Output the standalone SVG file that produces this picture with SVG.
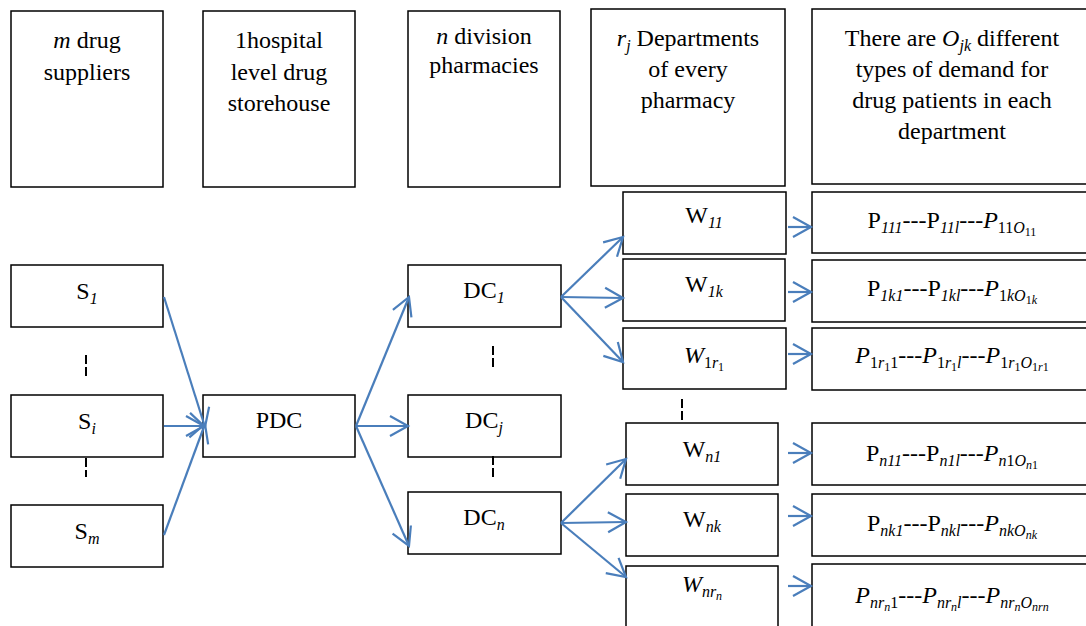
<svg xmlns="http://www.w3.org/2000/svg" width="1086" height="626" viewBox="0 0 1086 626">
<style>
rect{fill:#fff;stroke:#000;stroke-width:1.5}
text{font-family:'Liberation Serif',Tinos,'Times New Roman',Times,'Noto Serif','DejaVu Serif',FreeSerif,serif;font-size:24px;fill:#000;text-anchor:middle}
.i{font-style:italic}
.s{font-size:16px}
.ss{font-size:12px}
.c line{stroke:#4a7ebb;stroke-width:2.2;marker-end:url(#ah)}
.d{stroke:#000;stroke-width:2;stroke-dasharray:9 3}
</style>
<defs>
<marker id="ah" markerUnits="userSpaceOnUse" markerWidth="26" markerHeight="26" viewBox="-22 -13 26 26" refX="0" refY="0" orient="auto" overflow="visible">
<path d="M-18,-10 L0,0 L-18,10" fill="none" stroke="#4a7ebb" stroke-width="2.2"/>
</marker>
</defs>

<g id="h1"><rect x="11" y="11" width="152" height="176"/><text x="87" y="48"><tspan class="i">m</tspan> drug</text><text x="87" y="80">suppliers</text></g>
<g id="h2"><rect x="203" y="11" width="152" height="176"/><text x="279" y="48">1hospital</text><text x="279" y="80">level drug</text><text x="279" y="111">storehouse</text></g>
<g id="h3"><rect x="408" y="11" width="152" height="176"/><text x="484" y="44"><tspan class="i">n</tspan> division</text><text x="484" y="73">pharmacies</text></g>
<g id="h4"><rect x="591" y="9" width="194" height="177"/><text x="688" y="46"><tspan class="i">r</tspan><tspan class="s i" dy="5">j</tspan><tspan dy="-5"> Departments</tspan></text><text x="688" y="77">of every</text><text x="688" y="108">pharmacy</text></g>
<g id="h5"><rect x="812" y="9" width="280" height="175"/><text x="952" y="46">There are <tspan class="i">O</tspan><tspan class="s i" dy="5">jk</tspan><tspan dy="-5"> different</tspan></text><text x="952" y="77">types of demand for</text><text x="952" y="108">drug patients in each</text><text x="952" y="139">department</text></g>

<g id="S1"><rect x="11" y="265" width="152" height="62"/><text x="87" y="299">S<tspan class="s i" dy="5">1</tspan></text></g>
<g id="Si"><rect x="11" y="395" width="152" height="62"/><text x="87" y="429">S<tspan class="s i" dy="5">i</tspan></text></g>
<g id="Sm"><rect x="11" y="505" width="152" height="62"/><text x="87" y="539">S<tspan class="s i" dy="5">m</tspan></text></g>
<g id="PDC"><rect x="203" y="395" width="152" height="62"/><text x="279" y="428">PDC</text></g>
<g id="DC1"><rect x="408" y="265" width="153" height="62"/><text x="484" y="298">DC<tspan class="s i" dy="5">1</tspan></text></g>
<g id="DCj"><rect x="408" y="395" width="153" height="62"/><text x="484" y="428">DC<tspan class="s i" dy="5">j</tspan></text></g>
<g id="DCn"><rect x="408" y="492" width="153" height="62"/><text x="484" y="525">DC<tspan class="s i" dy="5">n</tspan></text></g>

<g id="W11"><rect x="623" y="192" width="163" height="62"/><text x="704" y="223">W<tspan class="s i" dy="5">11</tspan></text></g>
<g id="W1k"><rect x="623" y="259" width="162" height="62"/><text x="704" y="292">W<tspan class="s i" dy="5">1k</tspan></text></g>
<g id="W1r1"><rect x="623" y="328" width="163" height="61"/><text x="704" y="363"><tspan class="i">W</tspan><tspan class="s" dy="5">1</tspan><tspan class="s i">r</tspan><tspan class="ss" dy="3">1</tspan></text></g>
<g id="Wn1"><rect x="626" y="423" width="152" height="62"/><text x="702" y="457">W<tspan class="s i" dy="5">n1</tspan></text></g>
<g id="Wnk"><rect x="626" y="494" width="152" height="62"/><text x="702" y="527">W<tspan class="s i" dy="5">nk</tspan></text></g>
<g id="Wnrn"><rect x="626" y="566" width="152" height="70"/><text x="702" y="592"><tspan class="i">W</tspan><tspan class="s i" dy="5">nr</tspan><tspan class="ss i" dy="3">n</tspan></text></g>

<g id="P1"><rect x="812" y="192" width="280" height="61"/><text x="952" y="228">P<tspan class="s i" dy="5">111</tspan><tspan dy="-5">---P</tspan><tspan class="s i" dy="5">11l</tspan><tspan dy="-5">---</tspan><tspan class="i">P</tspan><tspan class="s" dy="5">11</tspan><tspan class="s i">O</tspan><tspan class="ss" dy="3">11</tspan></text></g>
<g id="P2"><rect x="812" y="260" width="280" height="62"/><text x="952" y="296">P<tspan class="s i" dy="5">1k1</tspan><tspan dy="-5">---P</tspan><tspan class="s i" dy="5">1kl</tspan><tspan dy="-5">---</tspan><tspan class="i">P</tspan><tspan class="s" dy="5">1</tspan><tspan class="s i">kO</tspan><tspan class="ss" dy="3">1</tspan><tspan class="ss i">k</tspan></text></g>
<g id="P3"><rect x="812" y="328" width="280" height="62"/><text x="952" y="363"><tspan class="i">P</tspan><tspan class="s" dy="5">1</tspan><tspan class="s i">r</tspan><tspan class="ss" dy="3">1</tspan><tspan class="s" dy="-3">1</tspan><tspan dy="-5">---</tspan><tspan class="i">P</tspan><tspan class="s" dy="5">1</tspan><tspan class="s i">r</tspan><tspan class="ss" dy="3">1</tspan><tspan class="s i" dy="-3">l</tspan><tspan dy="-5">---</tspan><tspan class="i">P</tspan><tspan class="s" dy="5">1</tspan><tspan class="s i">r</tspan><tspan class="ss" dy="3">1</tspan><tspan class="s i" dy="-3">O</tspan><tspan class="ss" dy="3">1</tspan><tspan class="ss i">r</tspan><tspan class="ss">1</tspan></text></g>
<g id="P4"><rect x="812" y="423" width="280" height="62"/><text x="952" y="461">P<tspan class="s i" dy="5">n11</tspan><tspan dy="-5">---P</tspan><tspan class="s i" dy="5">n1l</tspan><tspan dy="-5">---</tspan><tspan class="i">P</tspan><tspan class="s i" dy="5">n</tspan><tspan class="s">1</tspan><tspan class="s i">O</tspan><tspan class="ss i" dy="3">n</tspan><tspan class="ss">1</tspan></text></g>
<g id="P5"><rect x="812" y="494" width="280" height="62"/><text x="952" y="531">P<tspan class="s i" dy="5">nk1</tspan><tspan dy="-5">---P</tspan><tspan class="s i" dy="5">nkl</tspan><tspan dy="-5">---</tspan><tspan class="i">P</tspan><tspan class="s i" dy="5">nkO</tspan><tspan class="ss i" dy="3">nk</tspan></text></g>
<g id="P6"><rect x="812" y="564" width="280" height="72"/><text x="952" y="603"><tspan class="i">P</tspan><tspan class="s i" dy="5">nr</tspan><tspan class="ss i" dy="3">n</tspan><tspan class="s" dy="-3">1</tspan><tspan dy="-5">---</tspan><tspan class="i">P</tspan><tspan class="s i" dy="5">nr</tspan><tspan class="ss i" dy="3">n</tspan><tspan class="s i" dy="-3">l</tspan><tspan dy="-5">---</tspan><tspan class="i">P</tspan><tspan class="s i" dy="5">nr</tspan><tspan class="ss i" dy="3">n</tspan><tspan class="s i" dy="-3">O</tspan><tspan class="ss i" dy="3">nrn</tspan></text></g>

<g id="dots">
<line class="d" x1="86" y1="355" x2="86" y2="377"/>
<line class="d" x1="86" y1="458" x2="86" y2="477"/>
<line class="d" x1="493" y1="346" x2="493" y2="367"/>
<line class="d" x1="493" y1="456" x2="493" y2="477"/>
<line class="d" x1="682" y1="399" x2="682" y2="422"/>
</g>

<g id="connectors" class="c">
<line x1="164" y1="297" x2="205" y2="427"/>
<line x1="164" y1="426" x2="204" y2="426"/>
<line x1="164" y1="535" x2="205" y2="424"/>
<line x1="356" y1="426" x2="409" y2="297"/>
<line x1="356" y1="426" x2="408" y2="426"/>
<line x1="356" y1="426" x2="409" y2="546"/>
<line x1="561" y1="297" x2="623" y2="237"/>
<line x1="561" y1="297" x2="623" y2="298"/>
<line x1="561" y1="297" x2="623" y2="362"/>
<line x1="561" y1="523" x2="626" y2="459"/>
<line x1="561" y1="523" x2="626" y2="522"/>
<line x1="561" y1="523" x2="626" y2="577"/>
<line x1="788" y1="227" x2="811" y2="227"/>
<line x1="788" y1="292" x2="811" y2="292"/>
<line x1="788" y1="354" x2="811" y2="354"/>
<line x1="788" y1="453" x2="811" y2="453"/>
<line x1="788" y1="516" x2="811" y2="516"/>
<line x1="788" y1="586" x2="811" y2="586"/>
</g>
</svg>
